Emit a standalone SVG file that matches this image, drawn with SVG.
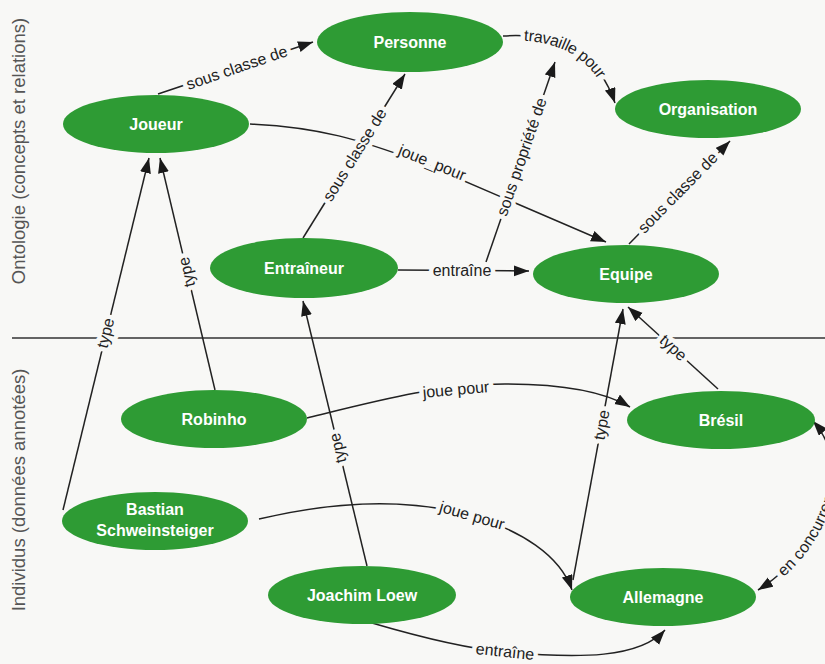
<svg xmlns="http://www.w3.org/2000/svg" width="825" height="664" viewBox="0 0 825 664">
<style>
.bg{fill:#f8f8f6}
.node ellipse{fill:#2e9b34}
.node text{font-family:"Liberation Sans",Arial,sans-serif;font-weight:bold;font-size:16px;fill:#fff;text-anchor:middle}
.edge{fill:none;stroke:#222;stroke-width:1.5}
.arr{marker-end:url(#ah)}
.lbl{font-family:"Liberation Sans",Arial,sans-serif;font-size:16px;fill:#222;stroke:#f8f8f6;stroke-width:9;stroke-linejoin:round;paint-order:stroke}
.halo{font-family:"Liberation Sans",Arial,sans-serif;font-size:16px;fill:none;stroke:#f8f8f6;stroke-width:9;stroke-linejoin:round}
.plain{font-family:"Liberation Sans",Arial,sans-serif;font-size:16px;fill:#222}
.side{font-family:"Liberation Sans",Arial,sans-serif;font-size:18.5px;fill:#555;text-anchor:middle}
.div{stroke:#333;stroke-width:1.5}
</style>
<defs>
<marker id="ah" markerUnits="userSpaceOnUse" markerWidth="16" markerHeight="12" refX="15" refY="5.5" orient="auto-start-reverse">
<path d="M0,0 L15,5.5 L0,11 Z" fill="#1a1a1a"/>
</marker>
<path id="p2" d="M503,36 Q590,30 615,103"/>
<path id="p14" d="M758,590 C790,570 815,540 828,500 C838,468 830,440 813,421"/>
</defs>
<rect class="bg" x="0" y="0" width="825" height="664"/>

<line class="div" x1="12" y1="338" x2="825" y2="338"/>
<text class="side" transform="translate(25,151) rotate(-90)">Ontologie (concepts et relations)</text>
<text class="side" transform="translate(25,490) rotate(-90)">Individus (données annotées)</text>

<g id="connectors">
<path class="edge arr" d="M158,94 L313,42"/>
<path class="edge arr" d="M503,36 Q590,30 615,103"/>
<path class="edge arr" d="M250,124 C320,127 360,140 420,162 L606,242"/>
<path class="edge arr" d="M303,238 L405,74"/>
<path class="edge arr" d="M398,270 L529,271"/>
<path class="edge arr" d="M486,262 L555,62"/>
<path class="edge arr" d="M629,244 L730,141"/>
<path class="edge arr" d="M63,510 L149,158"/>
<path class="edge arr" d="M215,390 L160,158"/>
<path class="edge arr" d="M367,566 L303,301"/>
<path class="edge arr" d="M307,418 C380,400 440,384 505,384 C565,384 605,392 630,407"/>
<path class="edge arr" d="M259,519 C340,500 410,498 472,516 C520,530 560,555 572,590"/>
<path class="edge arr" d="M372,623 C430,640 470,649 505,652 C580,659 640,658 665,630"/>
<path class="edge arr" d="M718,389 L628,307"/>
<path class="edge arr" d="M573,580 L623,309"/>
<path class="edge" d="M758,590 C790,570 815,540 828,500 C838,468 830,440 813,421" marker-start="url(#ah)" marker-end="url(#ah)"/>

<text class="lbl" text-anchor="middle" dy="5" transform="translate(237,68) rotate(-19)">sous classe de</text>
<text class="halo" dy="5"><textPath href="#p2" startOffset="21">travaille pour</textPath></text>
<text class="plain" dy="5"><textPath href="#p2" startOffset="21">travaille pour</textPath></text>
<text class="lbl" text-anchor="middle" dy="5" transform="translate(432,163) rotate(22)">joue_pour</text>
<text class="lbl" text-anchor="middle" dy="5" transform="translate(355,155) rotate(-58)">sous classe de</text>
<text class="lbl" text-anchor="middle" dy="5" transform="translate(462,271)">entraîne</text>
<text class="lbl" text-anchor="middle" dy="5" transform="translate(522,157) rotate(-71)">sous propriété de</text>
<text class="lbl" text-anchor="middle" dy="5" transform="translate(678,193) rotate(-45.5)">sous classe de</text>
<text class="lbl" text-anchor="middle" dy="5" transform="translate(106,333) rotate(-76.3)">type</text>
<text class="lbl" text-anchor="middle" dy="5" transform="translate(187,272) rotate(-103.3)">type</text>
<text class="lbl" text-anchor="middle" dy="5" transform="translate(338,448) rotate(-103.6)">type</text>
<text class="lbl" text-anchor="middle" dy="5" transform="translate(456,390) rotate(-5)">joue pour</text>
<text class="lbl" text-anchor="middle" dy="5" transform="translate(472,516) rotate(16)">joue pour</text>
<text class="lbl" text-anchor="middle" dy="5" transform="translate(505,652) rotate(6)">entraîne</text>
<text class="lbl" text-anchor="middle" dy="5" transform="translate(673,348) rotate(42)">type</text>
<text class="lbl" text-anchor="middle" dy="5" transform="translate(602,425) rotate(-79.6)">type</text>
<text class="halo" dy="5"><textPath href="#p14" startOffset="28">en concurrence</textPath></text>
<text class="plain" dy="5"><textPath href="#p14" startOffset="28">en concurrence</textPath></text>
</g>

<g id="personne" class="node"><ellipse cx="410" cy="42" rx="93" ry="30"/><text x="410" y="48">Personne</text></g>
<g id="joueur" class="node"><ellipse cx="156" cy="124" rx="93" ry="29"/><text x="156" y="130">Joueur</text></g>
<g id="organisation" class="node"><ellipse cx="708" cy="109" rx="93" ry="29"/><text x="708" y="115">Organisation</text></g>
<g id="entraineur" class="node"><ellipse cx="304" cy="268" rx="94" ry="30"/><text x="304" y="274">Entraîneur</text></g>
<g id="equipe" class="node"><ellipse cx="626" cy="274" rx="93" ry="29"/><text x="626" y="280">Equipe</text></g>
<g id="robinho" class="node"><ellipse cx="214" cy="419" rx="93" ry="29"/><text x="214" y="425">Robinho</text></g>
<g id="bresil" class="node"><ellipse cx="721" cy="420" rx="94" ry="29"/><text x="721" y="426">Brésil</text></g>
<g id="bastian" class="node"><ellipse cx="155" cy="521" rx="93" ry="29"/><text x="155" y="515">Bastian</text><text x="155" y="536">Schweinsteiger</text></g>
<g id="joachim" class="node"><ellipse cx="362" cy="595" rx="94" ry="29"/><text x="362" y="601">Joachim Loew</text></g>
<g id="allemagne" class="node"><ellipse cx="663" cy="597" rx="93" ry="29"/><text x="663" y="603">Allemagne</text></g>
</svg>
